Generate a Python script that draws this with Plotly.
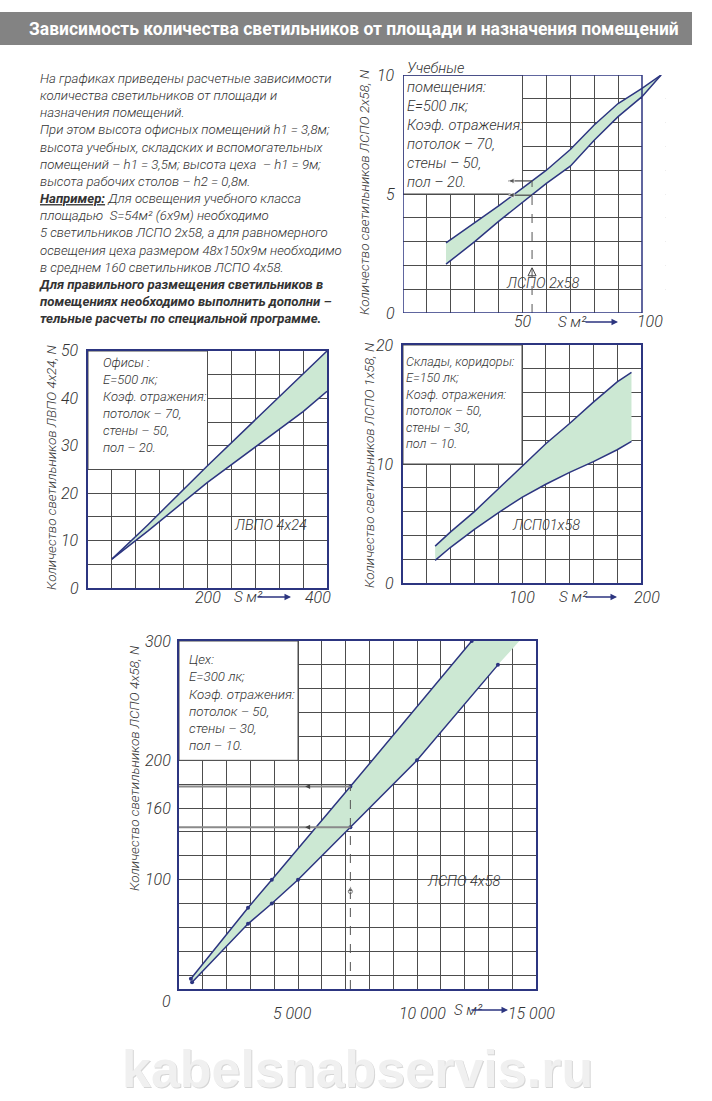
import plotly.graph_objects as go

W, H = 712, 1101

# ---------------- DATA ----------------
# Chart 1: учебные помещения, ЛСПО 2х58 (S, м² -> N)
s1 = [18, 30, 40, 50, 60, 70, 80, 90, 100, 108]
n1_upper = [2.95, 3.8, 4.5, 5.25, 6.0, 6.87, 7.9, 8.8, 9.44, 10.0]
n1_lower = [2.05, 3.0, 3.85, 4.65, 5.45, 6.17, 7.26, 8.25, 9.09, 10.0]

# Chart 2: офисы, ЛВПО 4х24
s2_upper = [40, 100, 200, 300, 400]
n2_upper = [6.1, 13.3, 25.8, 38.0, 50.0]
s2_lower = [40, 100, 200, 300, 360, 400]
n2_lower = [6.1, 12.0, 22.3, 31.7, 37.2, 41.5]

# Chart 3: склады, коридоры, ЛСПО 1х58
s3 = [27, 40, 60, 80, 100, 120, 140, 160, 180, 192]
n3_upper = [3.1, 4.3, 6.0, 7.9, 9.8, 11.7, 13.4, 15.2, 16.9, 17.7]
n3_lower = [1.9, 3.0, 4.5, 5.9, 7.2, 8.3, 9.3, 10.2, 11.2, 11.9]

# Chart 4: цех, ЛСПО 4х58
s4_upper = [500, 2900, 3900, 7200, 12300]
n4_upper = [17, 76.5, 100, 178, 300]
s4_lower = [550, 2900, 3900, 5000, 7200, 10000, 13400]
n4_lower = [14, 63, 80, 100, 144, 200, 280]
s4_fill_end = [14300]
n4_fill_end = [300]

# worked examples
ex1_s = 54
ex1_n = [4.95, 5.55]
ex4_s = 7200
ex4_n = [144, 178]

# tick labels
x1_ticks, y1_ticks = [50, 100], [0, 5, 10]
x2_ticks, y2_ticks = [200, 400], [0, 10, 20, 30, 40, 50]
x3_ticks, y3_ticks = [100, 200], [0, 10, 20]
x4_ticks, y4_ticks = [5000, 10000, 15000], [100, 160, 200, 300]
x4_tick_text = ["5 000", "10 000", "15 000"]

# grid
g1x, g1y = list(range(10, 100, 10)), list(range(1, 10))
g2x, g2y = list(range(40, 400, 40)), list(range(5, 50, 5))
g3x, g3y = list(range(20, 200, 20)), list(range(2, 20, 2))
g4x, g4y = list(range(1000, 15000, 1000)), list(range(20, 300, 20))

title_text = "Зависимость количества светильников от площади и назначения помещений"
intro_lines = [
    "На графиках приведены расчетные зависимости",
    "количества светильников от площади и",
    "назначения помещений.",
    "При этом высота офисных помещений h1 = 3,8м;",
    "высота учебных, складских и вспомогательных",
    "помещений – h1 = 3,5м; высота цеха  – h1 = 9м;",
    "высота рабочих столов – h2 = 0,8м.",
    "<u><b>Например:</b></u> Для освещения учебного класса",
    "площадью  S=54м² (6х9м) необходимо",
    "5 светильников ЛСПО 2х58, а для равномерного",
    "освещения цеха размером 48х150х9м необходимо",
    "в среднем 160 светильников ЛСПО 4х58.",
    "<b>Для правильного размещения светильников в</b>",
    "<b>помещениях необходимо выполнить дополни –</b>",
    "<b>тельные расчеты по специальной программе.</b>",
]
box1 = ["Учебные", "помещения:", "E=500 лк;", "Коэф. отражения:", "потолок – 70,", "стены – 50,", "пол – 20."]
box2 = ["Офисы :", "E=500 лк;", "Коэф. отражения:", "потолок – 70,", "стены – 50,", "пол – 20."]
box3 = ["Склады, коридоры:", "E=150 лк;", "Коэф. отражения:", "потолок – 50,", "стены – 30,", "пол – 10."]
box4 = ["Цех:", "E=300 лк;", "Коэф. отражения:", "потолок – 50,", "стены – 30,", "пол – 10."]
ytitle1 = "Количество светильников ЛСПО 2х58, N"
ytitle2 = "Количество светильников ЛВПО 4х24, N"
ytitle3 = "Количество светильников ЛСПО 1х58, N"
ytitle4 = "Количество светильников ЛСПО 4х58, N"
lamp1, lamp2, lamp3, lamp4 = "ЛСПО 2х58", "ЛВПО 4х24", "ЛСП01х58", "ЛСПО 4х58"
watermark = "kabelsnabservis.ru"

# ---------------- STYLE ----------------
GOST = "Roboto, sans-serif"
NAVY = "#2c3580"
GRID = "#4d4d4d"
FILL = "#cce8d3"
TXT = "#333333"


def px(x):
    return x / W


def py(y):
    return 1 - y / H


def gfont(size, color=TXT):
    return dict(family=GOST, size=size, color=color, style="italic", weight=300)


fig = go.Figure()


def add_band(xa, ya, su, nu, sl, nl, ext_s=(), ext_n=(), markers=False):
    fx = list(su) + list(ext_s) + list(reversed(sl))
    fy = list(nu) + list(ext_n) + list(reversed(nl))
    fig.add_trace(go.Scatter(x=fx, y=fy, xaxis=xa, yaxis=ya, fill="toself",
                             fillcolor=FILL, line=dict(width=0), mode="lines",
                             hoverinfo="skip"))
    mode = "lines+markers" if markers else "lines"
    for sx, sy in ((su, nu), (sl, nl)):
        fig.add_trace(go.Scatter(x=sx, y=sy, xaxis=xa, yaxis=ya, mode=mode,
                                 line=dict(color=NAVY, width=1.5),
                                 marker=dict(color=NAVY, size=4)))


add_band("x", "y", s1, n1_upper, s1, n1_lower)
add_band("x2", "y2", s2_upper, n2_upper, s2_lower, n2_lower)
add_band("x3", "y3", s3, n3_upper, s3, n3_lower)
add_band("x4", "y4", s4_upper, n4_upper, s4_lower, n4_lower, s4_fill_end, n4_fill_end, markers=True)

# worked example, chart 1
fig.add_trace(go.Scatter(x=[ex1_s, ex1_s], y=[0, ex1_n[1]], xaxis="x", yaxis="y", mode="lines",
                         line=dict(color="#555555", width=1, dash="dash")))
for n in ex1_n:
    fig.add_trace(go.Scatter(x=[ex1_s - 10, ex1_s], y=[n, n], xaxis="x", yaxis="y", mode="lines+markers",
                             line=dict(color="#444444", width=1.2),
                             marker=dict(symbol=["arrow-left", "circle"], size=[6, 0], color="#444444")))
fig.add_trace(go.Scatter(x=[ex1_s], y=[1.9], xaxis="x", yaxis="y", mode="markers",
                         marker=dict(symbol="arrow-up-open", size=8, color="#444444",
                                     line=dict(width=1, color="#444444"))))

# worked example, chart 4
for n in ex4_n:
    fig.add_trace(go.Scatter(x=[0, ex4_s], y=[n, n], xaxis="x4", yaxis="y4", mode="lines",
                             line=dict(color="#8a8a8a", width=2)))
    fig.add_trace(go.Scatter(x=[5300], y=[n], xaxis="x4", yaxis="y4", mode="markers",
                             marker=dict(symbol="arrow-left", size=5, color="#444444")))
fig.add_trace(go.Scatter(x=[ex4_s, ex4_s], y=[8.4, ex4_n[1]], xaxis="x4", yaxis="y4", mode="lines",
                         line=dict(color="#555555", width=1, dash="dash")))
fig.add_trace(go.Scatter(x=[ex4_s, ex4_s], y=[95, 90], xaxis="x4", yaxis="y4", mode="markers",
                         marker=dict(symbol=["arrow-up", "circle-open"], size=[6, 4], color="#555555")))


def axes(dx, dy, xr, yr, gx, gy, frame=True):
    xa = dict(domain=[px(dx[0]), px(dx[1])], range=xr, tickvals=gx, showticklabels=False,
              ticks="", showgrid=True, gridcolor=GRID, gridwidth=1, zeroline=False,
              showline=frame, linecolor=NAVY, linewidth=1.5, mirror=frame)
    ya = dict(domain=[py(dy[1]), py(dy[0])], range=yr, tickvals=gy, showticklabels=False,
              ticks="", showgrid=True, gridcolor=GRID, gridwidth=1, zeroline=False,
              showline=frame, linecolor=NAVY, linewidth=1.5, mirror=frame)
    return xa, ya


xa1, ya1 = axes((403, 403 + 2.39 * 110), (75, 313), [0, 110], [0, 10], g1x, g1y, frame=False)
xa2, ya2 = axes((88, 327), (351, 588), [0, 400], [0, 50], g2x, g2y)
xa3, ya3 = axes((403, 641), (345, 583), [0, 200], [0, 20], g3x, g3y)
xa4, ya4 = axes((179, 536), (641, 989), [0, 15000], [8.4, 300], g4x, g4y)
xa2["anchor"], ya2["anchor"] = "y2", "x2"
xa3["anchor"], ya3["anchor"] = "y3", "x3"
xa4["anchor"], ya4["anchor"] = "y4", "x4"

shapes = [
    dict(type="rect", xref="paper", yref="paper", x0=0, x1=px(692), y0=py(45), y1=py(12),
         fillcolor="#838383", line=dict(width=0), layer="below"),
    # areas free of grid (text boxes)
    dict(type="rect", xref="x", yref="y", x0=0, x1=50, y0=5, y1=10, fillcolor="white",
         line=dict(color=GRID, width=1), layer="between"),
    dict(type="rect", xref="x", yref="y", x0=100, x1=110, y0=-1, y1=11, fillcolor="white",
         line=dict(width=0), layer="between"),
    dict(type="rect", xref="x", yref="y", x0=0, x1=100, y0=0, y1=10,
         line=dict(color=NAVY, width=1.5), layer="above"),
    dict(type="rect", xref="x2", yref="y2", x0=0, x1=200, y0=25, y1=50, fillcolor="white",
         line=dict(color=GRID, width=1), layer="between"),
    dict(type="rect", xref="x3", yref="y3", x0=0, x1=100, y0=10, y1=20, fillcolor="white",
         line=dict(color=GRID, width=1), layer="between"),
    dict(type="rect", xref="x4", yref="y4", x0=0, x1=5000, y0=200, y1=300, fillcolor="white",
         line=dict(color=GRID, width=1), layer="between"),
]

ann = []
# header
ann.append(dict(text="<b>" + title_text + "</b>", xref="paper", yref="paper", x=px(27), y=py(29),
                xanchor="left", yanchor="middle", showarrow=False,
                font=dict(family="Roboto, sans-serif", size=17.5, color="white")))
# intro text
ann.append(dict(text="<br>".join(intro_lines), xref="paper", yref="paper", x=px(37), y=py(69),
                xanchor="left", yanchor="top", align="left", showarrow=False, font=gfont(13.2)))
# boxes
for lines, xl, yt, fs in ((box1, 405, 57, 14.6), (box2, 101, 353, 13), (box3, 404, 352, 12.6), (box4, 187, 650, 13.3)):
    ann.append(dict(text="<br>".join(lines), xref="paper", yref="paper", x=px(xl), y=py(yt),
                    xanchor="left", yanchor="top", align="left", showarrow=False, font=gfont(fs)))
# y titles
for t, xc, yc in ((ytitle1, 364, 192), (ytitle2, 51, 468), (ytitle3, 369, 465), (ytitle4, 134, 768)):
    ann.append(dict(text=t, xref="paper", yref="paper", x=px(xc), y=py(yc), textangle=-90,
                    xanchor="center", yanchor="middle", showarrow=False, font=gfont(13.5)))
# lamp labels
for t, xc, yc in ((lamp1, 581, 273), (lamp2, 270, 525), (lamp3, 582, 525), (lamp4, 463, 892)):
    ann.append(dict(text=t, xref="paper", yref="paper", x=px(xc), y=py(yc), showarrow=False,
                    font=gfont(14.5)))

# y tick labels
for yref, vals, xr in (("y", y1_ticks, 397), ("y2", y2_ticks, 81), ("y3", y3_ticks, 396), ("y4", y4_ticks, 173)):
    for v in vals:
        ann.append(dict(text=str(v), xref="paper", yref=yref, x=px(xr), y=v, xanchor="right",
                        yanchor="middle", showarrow=False, font=gfont(16)))
# chart 4: "0" sits below the drawn axis line
ann.append(dict(text="0", xref="paper", yref="paper", x=px(173), y=py(1001), xanchor="right",
                yanchor="middle", showarrow=False, font=gfont(16)))
# x tick labels
for xref, vals, texts, yc, shifts in (
        ("x", x1_ticks, [str(v) for v in x1_ticks], 321, [0, 8]),
        ("x2", x2_ticks, [str(v) for v in x2_ticks], 597, [0, -9]),
        ("x3", x3_ticks, [str(v) for v in x3_ticks], 597, [0, 6]),
        ("x4", x4_ticks, x4_tick_text, 1013, [-6, 5, -5])):
    for v, t, sh in zip(vals, texts, shifts):
        ann.append(dict(text=t, xref=xref, yref="paper", x=v, y=py(yc), xshift=sh, xanchor="center",
                        yanchor="middle", showarrow=False, font=gfont(16)))
# "S м² ->"
for xs, xa0, xa1_, yc in ((556, 584, 618, 322), (232, 256, 291, 597), (557, 584, 617, 597), (452, 470, 508, 1010)):
    ann.append(dict(text="S м²", xref="paper", yref="paper", x=px(xs), y=py(yc), xanchor="left",
                    yanchor="middle", showarrow=False, font=gfont(15)))
    ann.append(dict(text="", xref="paper", yref="paper", x=px(xa1_), y=py(yc), ax=-(xa1_ - xa0), ay=0,
                    showarrow=True, arrowhead=2, arrowsize=1, arrowwidth=1.3, arrowcolor=NAVY))
# watermark (embossed look: darker offset copy underneath)
for dx, dy, col in ((1, 0, "#d6d6d6"), (0, 1, "#f0f0f0")):
    ann.append(dict(text="<b>" + watermark + "</b>", xref="paper", yref="paper", x=px(357), y=0,
                    xanchor="center", yanchor="bottom", xshift=dx, yshift=dy, showarrow=False,
                    font=dict(family="Liberation Sans, Arial, sans-serif", size=52, color=col)))

fig.update_layout(
    width=W, height=H, margin=dict(l=0, r=0, t=0, b=0),
    paper_bgcolor="white", plot_bgcolor="white", showlegend=False,
    xaxis=xa1, yaxis=ya1, xaxis2=xa2, yaxis2=ya2, xaxis3=xa3, yaxis3=ya3, xaxis4=xa4, yaxis4=ya4,
    shapes=shapes, annotations=ann,
)

fig.write_html("out.html", config={"displayModeBar": False},
               post_script="document.body.style.margin='0';document.body.style.overflow='hidden';")
